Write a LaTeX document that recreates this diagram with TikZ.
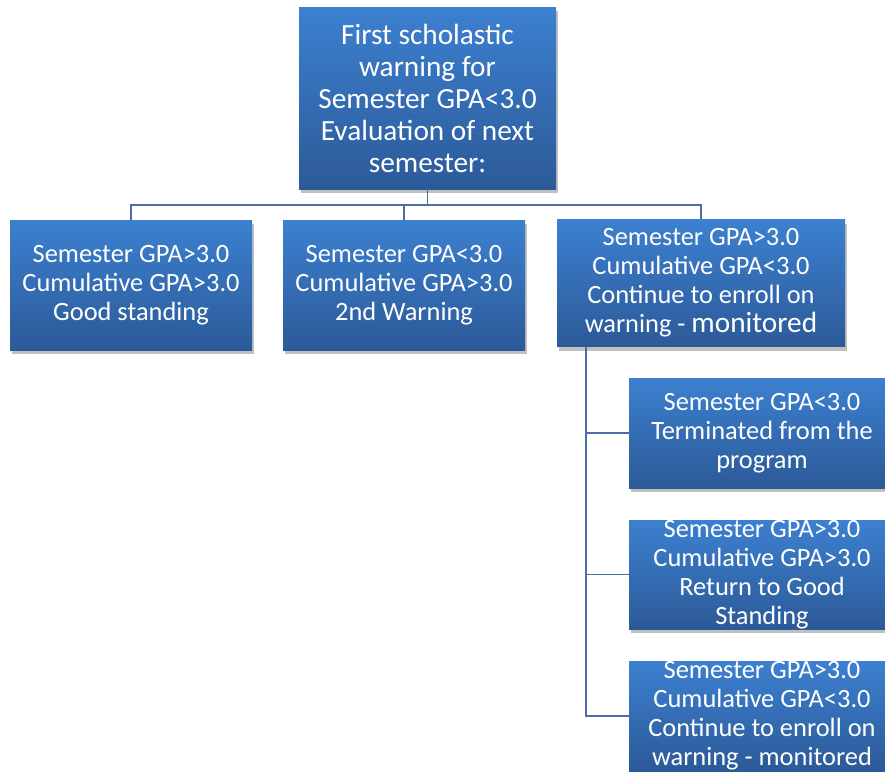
\documentclass[tikz,border=0pt]{standalone}
\usepackage{fontspec}
\setmainfont{Carlito}
\usetikzlibrary{shadows}
\definecolor{boxtop}{RGB}{60,128,208}
\definecolor{boxbot}{RGB}{44,90,152}
\definecolor{conncol}{RGB}{74,110,165}
\tikzset{
  box/.style={rectangle, inner sep=0pt, align=center, text=white,
    top color=boxtop, bottom color=boxbot, draw=none,
    drop shadow={shadow xshift=2pt, shadow yshift=-4pt, opacity=0.35, fill=black!70}},
  conn/.style={draw=conncol, line width=1.6pt},
  big/.style={font=\fontsize{29.3}{32}\selectfont},
  small/.style={font=\fontsize{26.4}{29}\selectfont}
}
\begin{document}
\begin{tikzpicture}[x=1pt,y=-1pt]
\useasboundingbox (0,0) rectangle (885,771);
\clip (0,0) rectangle (885,771);
\fill[white] (0,0) rectangle (885,771);

\node[box,big,minimum width=257pt,minimum height=182pt] (top) at (427.5,98)
  {First scholastic\\warning for\\Semester GPA<3.0\\Evaluation of next\\semester:};

\node[box,small,minimum width=242pt,minimum height=130pt] (b1) at (131,285)
  {Semester GPA>3.0\\Cumulative GPA>3.0\\Good standing};
\node[box,small,minimum width=242pt,minimum height=130pt] (b2) at (404,285)
  {Semester GPA<3.0\\Cumulative GPA>3.0\\2nd Warning};
\node[box,small,minimum width=288pt,minimum height=127pt] (b3) at (701,283)
  {Semester GPA>3.0\\Cumulative GPA<3.0\\Continue to enroll on\\warning - {\fontsize{29.3}{29}\selectfont monitored}};

\node[box,small,minimum width=266pt,minimum height=110pt] (b4) at (762,433)
  {Semester GPA<3.0\\Terminated from the\\program};
\node[box,small,minimum width=266pt,minimum height=109pt] (b5) at (762,574.5)
  {Semester GPA>3.0\\Cumulative GPA>3.0\\Return to Good\\Standing};
\node[box,small,minimum width=266pt,minimum height=110pt] (b6) at (762,716)
  {Semester GPA>3.0\\Cumulative GPA<3.0\\Continue to enroll on\\warning - monitored};

\coordinate (j) at (top.south |- 0,205);
\draw[conn] (top.south) -- (j);
\draw[conn] (b1.north) |- (j) -| (b3.north);
\draw[conn] (b2.north) -- (b2.north |- j);

\coordinate (v) at ([xshift=29pt]b3.south west);
\draw[conn] (v) |- (b6.west);
\draw[conn] (v |- b4.west) -- (b4.west);
\draw[conn] (v |- b5.west) -- (b5.west);
\end{tikzpicture}
\end{document}
